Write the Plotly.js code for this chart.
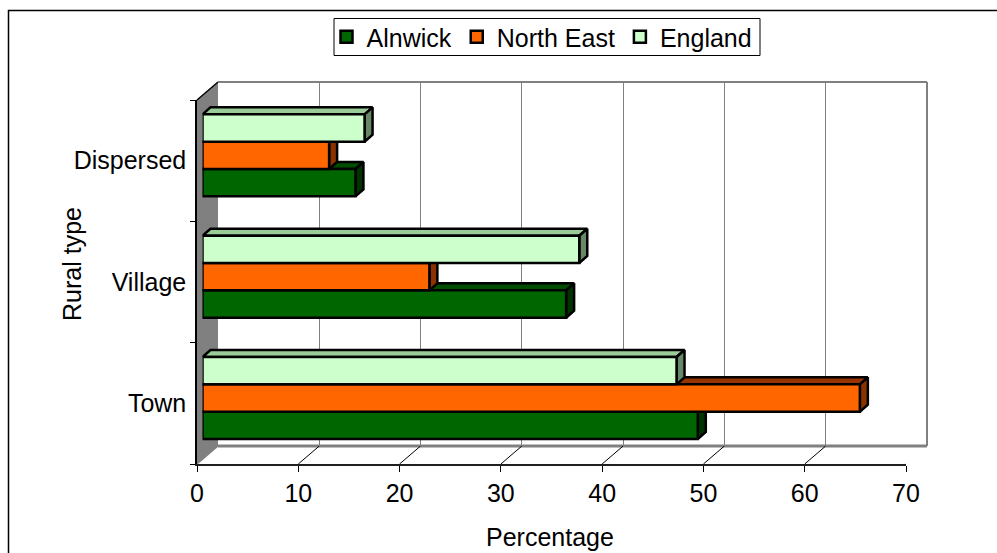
<!DOCTYPE html>
<html>
<head>
<meta charset="utf-8">
<script src="https://cdn.plot.ly/plotly-3.0.1.min.js"></script>
<style>html,body{margin:0;padding:0;background:#fff;}#chart{width:997px;height:553px;}</style>
</head>
<body>
<div id="chart"></div>
<script>
// ---- data ----
const categories = ['Town', 'Village', 'Dispersed'];   // bottom to top
const seriesNames = ['Alnwick', 'North East', 'England'];
const alnwick   = [48.9, 35.9, 15.1];
const northEast = [64.9, 22.4, 12.5];
const england   = [46.8, 37.2, 16.0];
const xTickVals = [0, 10, 20, 30, 40, 50, 60, 70];
const xTitle = 'Percentage';
const yTitle = 'Rural type';

// ---- styles ----
const frontColors = ['#006600', '#FF6600', '#CCFFCC'];
const topColors   = ['#004D00', '#993300', '#99CC99'];
const sideColors  = ['#003300', '#8B3300', '#668866'];
const FONT = 'Arial, "Liberation Sans", sans-serif';
const EDGE_W = 2.5;

// ---- geometry (pixels) ----
const W = 997, H = 553;
const fx = p => p / W, fy = p => 1 - p / H;
const F = {x0: 197, x1: 906, yTop: 100, yBot: 464};   // front plane
const BACK = {dx: 21, dy: -18};                        // back wall offset
const BARP = {dx: 5.5, dy: -5.3};                       // bar plane offset
const DEPTH = {dx: 8, dy: -7};                          // bar depth
const LEG = {x0: 334, x1: 760, y0: 18.5, y1: 55.5, cx: 542};    // legend box
const XMAX = 70;
const pxPerUnit = (F.x1 - F.x0) / XMAX;
const pxPerCat = (F.yBot - F.yTop) / categories.length;
const ddx = DEPTH.dx / pxPerUnit;
const ddy = -DEPTH.dy / pxPerCat;
const groupFrac = 82 / pxPerCat;
const bw = groupFrac / seriesNames.length;

const series = [alnwick, northEast, england];
const yIdx = categories.map((c, i) => i);

const traces = [];
// back wall subplot (grid only)
traces.push({type: 'scatter', x: [], y: [], xaxis: 'x', yaxis: 'y', showlegend: false, hoverinfo: 'skip'});

// 3D faces (top & right) on bar plane, drawn beneath front faces
series.forEach((vals, s) => {
  const off = -1.5 * bw + s * bw;
  const tx = [], ty = [], sx = [], sy = [];
  vals.forEach((v, c) => {
    const bot = c + off, top = bot + bw;
    tx.push(0, ddx, v + ddx, v, 0, null);
    ty.push(top, top + ddy, top + ddy, top, top, null);
    sx.push(v, v + ddx, v + ddx, v, v, null);
    sy.push(top, top + ddy, bot + ddy, bot, top, null);
  });
  traces.push({type: 'scatter', mode: 'lines', fill: 'toself', x: tx, y: ty,
    fillcolor: topColors[s], line: {color: '#000', width: EDGE_W},
    xaxis: 'x2', yaxis: 'y2', showlegend: false, hoverinfo: 'skip'});
  traces.push({type: 'scatter', mode: 'lines', fill: 'toself', x: sx, y: sy,
    fillcolor: sideColors[s], line: {color: '#000', width: EDGE_W},
    xaxis: 'x2', yaxis: 'y2', showlegend: false, hoverinfo: 'skip'});
});

// front faces (bars)
series.forEach((vals, s) => {
  traces.push({type: 'bar', orientation: 'h', name: seriesNames[s],
    x: vals, y: yIdx, width: bw, offset: -1.5 * bw + s * bw,
    marker: {color: frontColors[s], line: {color: '#000', width: EDGE_W}},
    xaxis: 'x3', yaxis: 'y3',
    text: categories, hovertemplate: '%{text}: %{x}<extra>' + seriesNames[s] + '</extra>', textposition: 'none'});
});

// front-plane axes (labels)
traces.push({type: 'scatter', mode: 'markers', x: categories.map(() => 0), y: categories,
  marker: {opacity: 0}, xaxis: 'x4', yaxis: 'y4', showlegend: false, hoverinfo: 'skip'});

const hidden = {visible: false, showgrid: false, zeroline: false, fixedrange: true};
const barX = Object.assign({}, hidden, {domain: [fx(F.x0 + BARP.dx), fx(F.x1 + BARP.dx)], range: [0, XMAX]});
const barY = Object.assign({}, hidden, {type: 'linear', domain: [fy(F.yBot + BARP.dy), fy(F.yTop + BARP.dy)], range: [-0.5, categories.length - 0.5]});

const shapes = [];
// legend box
shapes.push({type: 'rect', xref: 'paper', yref: 'paper', layer: 'below',
  x0: fx(LEG.x0), x1: fx(LEG.x1), y0: fy(LEG.y0), y1: fy(LEG.y1), line: {color: '#000', width: 1}, fillcolor: '#fff'});
// left wall
shapes.push({type: 'path', xref: 'paper', yref: 'paper', layer: 'below',
  path: `M${fx(F.x0)},${fy(F.yTop)} L${fx(F.x0 + BACK.dx)},${fy(F.yTop + BACK.dy)} L${fx(F.x0 + BACK.dx)},${fy(F.yBot + BACK.dy)} L${fx(F.x0)},${fy(F.yBot)} Z`,
  fillcolor: '#808080', line: {width: 0}});
// left wall top edge
shapes.push({type: 'line', xref: 'paper', yref: 'paper', layer: 'below',
  x0: fx(F.x0), y0: fy(F.yTop), x1: fx(F.x0 + BACK.dx), y1: fy(F.yTop + BACK.dy), line: {color: '#000', width: 1.5}});
// back wall top & right edges, floor back edge
shapes.push({type: 'line', xref: 'paper', yref: 'paper', layer: 'below',
  x0: fx(F.x0 + BACK.dx), y0: fy(F.yTop + BACK.dy), x1: fx(F.x1 + BACK.dx), y1: fy(F.yTop + BACK.dy), line: {color: '#808080', width: 2}});
shapes.push({type: 'line', xref: 'paper', yref: 'paper', layer: 'below',
  x0: fx(F.x1 + BACK.dx), y0: fy(F.yTop + BACK.dy), x1: fx(F.x1 + BACK.dx), y1: fy(F.yBot + BACK.dy), line: {color: '#808080', width: 2}});
shapes.push({type: 'line', xref: 'paper', yref: 'paper', layer: 'below',
  x0: fx(F.x0 + BACK.dx), y0: fy(F.yBot + BACK.dy), x1: fx(F.x1 + BACK.dx), y1: fy(F.yBot + BACK.dy), line: {color: '#808080', width: 3}});
// floor diagonals at ticks
xTickVals.forEach(v => {
  const edge = (v === 0 || v === XMAX);
  shapes.push({type: 'line', xref: 'x4', yref: 'paper', xsizemode: 'pixel', xanchor: v,
    x0: 0, x1: BACK.dx, y0: fy(F.yBot), y1: fy(F.yBot + BACK.dy), layer: 'below',
    line: {color: edge ? '#808080' : '#000', width: edge ? 1.5 : 1}});
});
// outer border
shapes.push({type: 'rect', xref: 'paper', yref: 'paper', layer: 'above',
  x0: fx(8.5), x1: fx(1010), y0: fy(10.5), y1: fy(570), line: {color: '#000', width: 1.5}, fillcolor: 'rgba(0,0,0,0)'});

const layout = {
  width: W, height: H, autosize: false,
  margin: {l: 0, r: 0, t: 0, b: 0, pad: 0},
  paper_bgcolor: '#fff', plot_bgcolor: 'rgba(0,0,0,0)',
  font: {family: FONT, size: 25, color: '#000'},
  barmode: 'overlay',
  showlegend: true,
  legend: {orientation: 'h', x: fx(LEG.cx), xanchor: 'center', y: fy((LEG.y0 + LEG.y1) / 2), yanchor: 'middle',
    borderwidth: 0, bgcolor: 'rgba(0,0,0,0)', font: {family: FONT, size: 25, color: '#000'},
    itemwidth: 30, traceorder: 'normal'},
  xaxis: {domain: [fx(F.x0 + BACK.dx), fx(F.x1 + BACK.dx)], range: [0, XMAX], tickvals: xTickVals,
    showgrid: true, gridcolor: '#808080', gridwidth: 1, showticklabels: false, ticks: '', zeroline: false,
    showline: false, anchor: 'y', fixedrange: true},
  yaxis: {domain: [fy(F.yBot + BACK.dy), fy(F.yTop + BACK.dy)], range: [0, 1], visible: false,
    showgrid: false, zeroline: false, anchor: 'x', fixedrange: true},
  xaxis2: Object.assign({}, barX, {anchor: 'y2'}),
  yaxis2: Object.assign({}, barY, {anchor: 'x2'}),
  xaxis3: Object.assign({}, barX, {anchor: 'y3'}),
  yaxis3: Object.assign({}, barY, {anchor: 'x3'}),
  xaxis4: {domain: [fx(F.x0), fx(F.x1)], range: [0, XMAX], tickvals: xTickVals, anchor: 'y4',
    showgrid: false, zeroline: false, showline: true, linecolor: '#202020', linewidth: 1.5,
    ticks: 'outside', ticklen: 6, tickcolor: '#000', tickwidth: 1, ticklabelstandoff: 0,
    tickfont: {family: FONT, size: 25, color: '#000'}, fixedrange: true},
  yaxis4: {domain: [fy(F.yBot), fy(F.yTop)], type: 'category', categoryorder: 'array', categoryarray: categories,
    range: [-0.5, categories.length - 0.5], anchor: 'x4',
    showgrid: false, zeroline: false, showline: true, linecolor: '#000', linewidth: 1.5,
    ticks: 'outside', tickson: 'boundaries', ticklen: 5, tickcolor: '#000', tickwidth: 1, ticklabelstandoff: 4,
    tickfont: {family: FONT, size: 25, color: '#000'}, fixedrange: true},
  annotations: [
    {text: xTitle, xref: 'paper', yref: 'paper', x: fx(550), y: fy(537), xanchor: 'center', yanchor: 'middle',
      showarrow: false, font: {family: FONT, size: 25, color: '#000'}},
    {text: yTitle, xref: 'paper', yref: 'paper', x: fx(72), y: fy(264), xanchor: 'center', yanchor: 'middle',
      textangle: -90, showarrow: false, font: {family: FONT, size: 25, color: '#000'}}
  ],
  shapes: shapes
};

Plotly.newPlot('chart', traces, layout, {displayModeBar: false, staticPlot: false});
</script>
</body>
</html>
